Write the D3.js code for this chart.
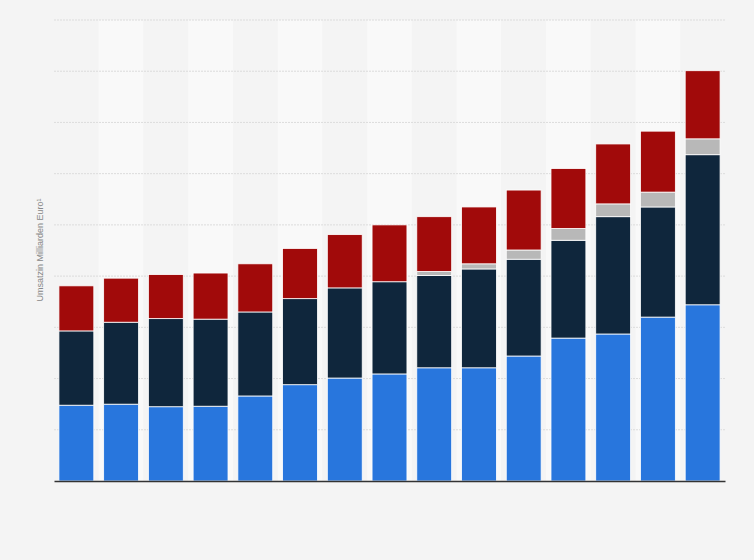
<!DOCTYPE html><html><head><meta charset="utf-8"><script src="https://cdn.jsdelivr.net/npm/d3@7"></script>
<style>body{margin:0;background:#f4f4f4}</style></head><body><svg id="c" width="754" height="560"></svg><script>
const categories=["1","2","3","4","5","6","7","8","9","10","11","12","13","14","15"];
const seriesNames=["s1","s2","s3","s4"];
const blue=[14.8,15.0,14.5,14.6,16.6,18.8,20.1,20.9,22.1,22.1,24.4,27.9,28.7,32.0,34.4];
const navy=[14.5,16.0,17.2,17.0,16.4,16.8,17.6,18.0,18.0,19.3,18.9,19.1,22.9,21.5,29.3];
const gray=[0,0,0,0,0,0,0,0,0.8,1.0,1.8,2.3,2.5,2.9,3.1];
const red=[8.8,8.6,8.6,9.0,9.4,9.8,10.4,11.1,10.7,11.1,11.7,11.7,11.7,11.9,13.3];
const yTicks=[0,10,20,30,40,50,60,70,80,90];
const colors=["#2876dd","#0f263c","#b8b8b8","#a10a0a"];
const svg=d3.select("#c");
const L=54,R=725,T=20,B=481;
const x=d3.scaleBand().domain(categories).range([L,R]).paddingInner(0.22).paddingOuter(0.11);
const y=d3.scaleLinear().domain([0,90]).range([B,T]);
const step=x.step();
svg.selectAll("rect.bg").data(categories).join("rect").attr("x",(d,i)=>L+i*(R-L)/categories.length).attr("y",T)
 .attr("width",(R-L)/categories.length).attr("height",B-T).attr("fill",(d,i)=>i%2?"#f9f9f9":"#f4f4f4");
svg.append("g").selectAll("line").data(yTicks.slice(1)).join("line").attr("x1",L).attr("x2",R)
 .attr("y1",d=>y(d)).attr("y2",d=>y(d)).attr("stroke","#dcdcdc").attr("stroke-dasharray","2,1");
const data=categories.map((c,i)=>({c,s1:blue[i],s2:navy[i],s3:gray[i],s4:red[i]}));
const st=d3.stack().keys(seriesNames)(data);
st.forEach((s,k)=>{svg.append("g").selectAll("rect").data(s.filter(d=>d[1]-d[0]>0)).join("rect")
 .attr("x",d=>x(d.data.c)).attr("width",x.bandwidth()).attr("y",d=>y(d[1])).attr("height",d=>y(d[0])-y(d[1]))
 .attr("fill",colors[k]).attr("stroke","#fff").attr("stroke-width",0.8);});
svg.append("g").attr("transform",`translate(0,${B})`).call(d3.axisBottom(x).tickSize(0).tickFormat(""))
 .call(g=>g.select(".domain").attr("stroke","#333").attr("stroke-width",1.5));
svg.append("text").attr("transform","translate(43,250) rotate(-90)").attr("text-anchor","middle")
 .attr("font-family","Arial, Liberation Sans").attr("font-size",9).attr("fill","#888").text("Umsatzin Milliarden Euro¹");
</script></body></html>
